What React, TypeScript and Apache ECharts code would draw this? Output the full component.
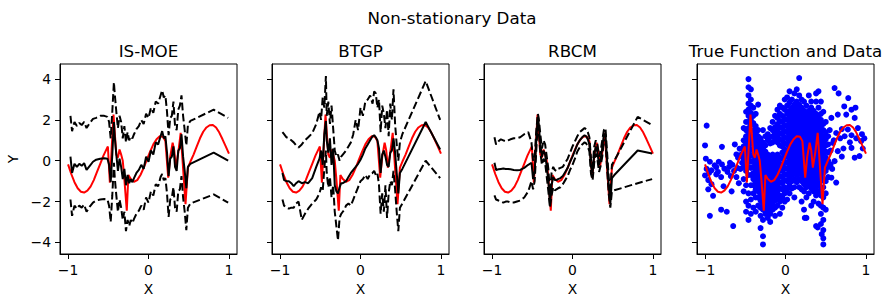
import React, { useEffect, useRef } from "react";
import * as echarts from "echarts";

// shared test inputs
const xTest = [
  -0.97, -0.95, -0.92, -0.89, -0.86, -0.83, -0.8, -0.77, -0.73, -0.69, -0.65, -0.6,
  -0.55, -0.51, -0.49, -0.47, -0.45, -0.43, -0.42, -0.4, -0.38, -0.36, -0.34, -0.32,
  -0.3, -0.28, -0.26, -0.24, -0.22, -0.2, -0.18, -0.15, -0.12, -0.09, -0.06, -0.03,
  0.0, 0.03, 0.06, 0.09, 0.12, 0.15, 0.17, 0.19, 0.21, 0.23, 0.25, 0.27,
  0.29, 0.31, 0.33, 0.35, 0.37, 0.39, 0.41, 0.43, 0.45, 0.47, 0.49, 0.52, 0.81, 0.99,
];

// IS-MOE
const meanIsMoe = [
  0.2, -0.6, -0.15, -0.3, -0.15, -0.25, -0.12, -0.45, -0.25, -0.05, 0.05, 0.1,
  0.12, 0.1, -0.2, -1.05, 0.3, 1.9, 1.2, 0.3, -0.5, 0.1, -0.3, -0.9,
  -0.4, -1.2, -0.7, -1.1, -0.9, -1.05, -0.85, -0.6, -0.45, -0.2, -0.4, 0.2,
  -0.05, 0.5, 0.3, 0.9, 0.8, 1.2, 1.45, 1.1, 1.2, 0.4, -0.75, 0.1,
  0.2, 0.7, -0.3, -0.5, 0.5, 0.6, 1.3, 0.2, -0.5, -1.35, -0.3, -0.15, 0.4, 0.0,
];
const upperIsMoe = [
  2.2, 1.45, 1.9, 1.7, 1.85, 1.75, 1.9, 1.6, 1.85, 2.05, 2.1, 2.2,
  2.2, 2.15, 1.9, 1.1, 2.4, 3.85, 3.3, 2.4, 1.6, 2.2, 1.9, 1.1,
  1.7, 0.9, 1.4, 1.0, 1.2, 1.1, 1.3, 1.55, 1.7, 2.0, 1.8, 2.3,
  2.1, 2.6, 2.35, 2.9, 2.8, 3.2, 3.45, 3.1, 3.2, 2.4, 1.25, 2.1,
  2.2, 2.9, 1.7, 1.5, 2.5, 2.7, 3.2, 2.2, 1.5, 0.75, 1.75, 1.95, 2.5, 2.1,
];
const lowerIsMoe = [
  -1.9, -2.7, -2.2, -2.35, -2.2, -2.3, -2.15, -2.5, -2.25, -2.05, -1.95, -1.9,
  -1.88, -1.9, -2.2, -3.0, -1.7, -0.1, -0.8, -1.7, -2.5, -1.9, -2.3, -2.9,
  -2.5, -3.45, -2.9, -3.2, -2.9, -3.05, -2.85, -2.6, -2.45, -2.2, -2.4, -1.8,
  -2.05, -1.5, -1.7, -1.15, -1.25, -0.8, -0.65, -0.95, -0.85, -1.6, -2.75, -1.9,
  -1.8, -1.3, -2.3, -2.5, -1.5, -1.4, -0.75, -1.8, -2.5, -3.4, -2.3, -2.1, -1.65, -2.05,
];

// BTGP
const meanBtgp = [
  -0.6, -0.95, -1.0, -1.0, -1.1, -1.25, -1.1, -1.0, -1.1, -1.05, -1.1, -0.85,
  -0.3, 0.1, 0.5, -0.2, 1.3, 1.95, 1.0, 0.4, 1.1, -0.2, 0.6, -1.2,
  -1.5, -1.6, -1.3, -1.1, -1.1, -1.05, -1.0, -0.8, -0.6, -0.45, -0.3, -0.15,
  0.05, 0.3, 0.6, 0.8, 1.0, 1.2, 1.25, 1.15, 1.0, 0.6, -0.6, 0.3,
  0.5, 0.2, -0.2, -0.3, 0.4, 0.5, 1.1, 0.4, -0.6, -1.6, -0.6, -0.4, 1.9, 0.55,
];
const upperBtgp = [
  1.4, 1.3, 1.15, 1.1, 1.0, 0.9, 0.75, 0.65, 0.8, 1.0, 1.15, 1.35,
  1.8, 2.4, 2.0, 3.1, 2.6, 4.15, 2.2, 2.9, 1.8, 2.7, 1.6, 0.5,
  0.2, 0.3, 0.0, 0.2, 0.3, 0.4, 0.5, 0.7, 0.9, 1.3, 2.0, 1.5,
  2.6, 2.2, 2.9, 3.0, 3.2, 2.8, 3.4, 3.3, 2.6, 3.0, 1.4, 2.7,
  2.3, 1.6, 2.5, 1.2, 2.8, 2.0, 3.5, 1.8, 0.8, 0.0, 0.9, 1.3, 3.9, 2.0,
];
const lowerBtgp = [
  -1.9, -2.2, -2.3, -2.35, -2.3, -2.3, -2.1, -2.0, -2.9, -2.6, -2.35, -2.1,
  -1.9, -1.6, -1.3, -1.5, -0.4, 0.5, -0.6, -1.3, -0.8, -1.8, -1.2, -2.5,
  -3.2, -3.9, -2.8, -2.6, -2.5, -2.4, -2.2, -2.1, -2.2, -1.9, -1.6, -1.3,
  -1.0, -0.9, -0.7, -0.9, -0.65, -0.6, -0.5, -0.7, -0.6, -1.2, -2.6, -1.6,
  -2.5, -1.2, -2.8, -1.6, -1.0, -1.2, -0.5, -1.4, -2.5, -3.45, -2.3, -2.1, 0.0, -0.85,
];

// RBCM
const meanRbcm = [
  -0.1, -0.45, -0.42, -0.4, -0.38, -0.4, -0.4, -0.42, -0.45, -0.47, -0.45, -0.35,
  -0.2, -0.1, -0.9, -0.5, 1.0, 2.15, 1.8, 0.8, 0.2, 0.5, 0.3, -0.3,
  -1.0, -2.1, -1.2, -0.8, -0.95, -0.95, -0.9, -0.85, -0.75, -0.55, -0.35, -0.05,
  0.2, 0.5, 0.8, 1.0, 1.15, 1.25, 1.2, 1.05, 0.8, -0.3, -0.6, 0.3,
  0.7, 0.4, -0.2, 0.1, 0.6, 1.3, 1.3, 0.0, -1.2, -2.1, -0.85, -0.7, 0.5, 0.35,
];
const upperRbcm = [
  1.15, 0.8, 0.95, 1.05, 1.0, 0.95, 1.0, 1.05, 1.1, 1.1, 1.15, 1.3,
  1.4, 0.9, 0.0, 0.2, 1.5, 2.3, 2.1, 1.3, 0.6, 1.0, 0.8, 0.2,
  -0.4, -1.6, -0.6, -0.3, -0.45, -0.5, -0.4, -0.35, -0.3, -0.1, 0.1, 0.4,
  0.7, 0.95, 1.2, 1.4, 1.5, 1.6, 1.55, 1.4, 1.15, 0.1, -0.3, 0.7,
  1.0, 0.8, 0.2, 0.5, 1.0, 1.5, 1.6, 0.4, -0.8, -1.6, -0.2, 0.0, 2.15, 1.75,
];
const lowerRbcm = [
  -1.7, -1.9, -1.95, -2.0, -2.05, -2.0, -2.0, -2.05, -2.05, -2.0, -1.95, -1.8,
  -1.5, -1.0, -1.4, -1.0, 0.5, 1.95, 1.5, 0.4, -0.2, 0.1, -0.1, -0.8,
  -1.5, -2.3, -1.7, -1.3, -1.45, -1.4, -1.35, -1.3, -1.15, -0.95, -0.75, -0.45,
  -0.2, 0.1, 0.45, 0.65, 0.8, 0.9, 0.85, 0.7, 0.45, -0.65, -0.95, -0.1,
  0.35, 0.05, -0.55, -0.25, 0.2, 1.0, 1.0, -0.4, -1.6, -2.3, -1.5, -1.45, -1.1, -0.9,
];

// true function
const trueX = [
  -1.0, -0.96, -0.92, -0.88, -0.84, -0.8, -0.76, -0.72, -0.68, -0.64, -0.6, -0.56, -0.52,
  -0.505, -0.48, -0.455, -0.435, -0.42, -0.4, -0.38, -0.36, -0.34, -0.32, -0.3, -0.27,
  -0.25, -0.22, -0.18, -0.14, -0.1, -0.06, -0.02, 0.02, 0.06, 0.1, 0.14, 0.18, 0.21,
  0.245, 0.27, 0.3, 0.32, 0.34, 0.37, 0.4, 0.46, 0.49, 0.52, 0.56, 0.6, 0.64, 0.68,
  0.72, 0.76, 0.8, 0.84, 0.88, 0.92, 0.96, 1.0,
];
const trueY = [
  -0.18, -0.65, -1.05, -1.35, -1.52, -1.56, -1.47, -1.27, -0.95, -0.55, -0.15, 0.25, 0.58,
  0.7, -1.07, 0.8, 2.26, 1.4, 0.3, 0.15, 0.55, 0.3, 0.0, -0.9, -2.45,
  -0.7, -0.9, -1.03, -0.95, -0.7, -0.35, 0.05, 0.45, 0.8, 1.05, 1.2, 1.18, 0.96,
  -0.83, 0.2, 0.88, 0.5, -0.34, 0.4, 1.37, -2.13, -0.34, -0.05, 0.3, 0.7, 1.1, 1.42,
  1.63, 1.74, 1.75, 1.63, 1.38, 1.05, 0.7, 0.35,
];

// observed data
const dataLeft: [number, number][] = [
  [-0.98, 1.72], [-1.0, 0.75], [-0.99, 0.1], [-0.98, -0.4], [-1.0, -0.72], [-0.95, -0.6],
  [-0.92, -0.47], [-0.94, -0.05], [-0.88, -0.22], [-0.86, -0.67], [-0.79, 0.68], [-0.79, -0.18],
  [-0.69, -0.1], [-0.92, -1.15], [-0.96, -1.4], [-0.9, -1.72], [-0.94, -2.7], [-0.8, -2.4],
  [-0.73, -2.5], [-0.65, -3.2], [-0.63, 0.8], [-0.61, 0.31], [-0.67, -1.5], [-0.52, 0.5],
  [-0.86, -0.31], [-0.8, -0.8], [-0.76, -0.39], [-0.72, -0.55], [-0.68, -0.75], [-0.66, -0.2],
  [-0.57, 0.59], [-0.59, 0.15], [-0.61, -0.8], [-0.84, -0.55], [-0.96, -0.95], [-0.77, -1.25],
  [-0.7, -0.3], [-0.55, 0.3], [-0.56, -0.4], [-0.58, -1.1], [-0.54, -0.1], [-0.83, -0.05],
  [-0.64, -0.5], [-0.6, -0.35],
];
const dataColumns: [number, number[]][] = [
  [-0.52, [1.6, 1.0, 0.7, 0.4, 0.1, -0.3, -0.9, -1.5]],
  [-0.49, [2.4, 1.9, 1.5, 1.2, 0.85, 0.5, 0.2, -0.1, -0.5, -1.2, -2.0, -2.5]],
  [-0.46, [4.0, 3.6, 3.2, 2.8, 2.5, 2.2, 1.9, 1.6, 1.3, 1.0, 0.7, 0.4, 0.1, -0.3, -0.7, -1.6, -2.2, -2.9]],
  [-0.43, [3.5, 3.0, 2.7, 2.35, 2.05, 1.75, 1.45, 1.15, 0.85, 0.55, 0.25, -0.05, -0.35, -0.7, -1.2, -1.9, -2.6]],
  [-0.4, [2.6, 2.2, 1.85, 1.5, 1.2, 0.9, 0.6, 0.3, 0.0, -0.3, -0.6, -0.9, -1.2, -1.6, -2.3]],
  [-0.37, [2.3, 1.7, 1.35, 1.05, 0.75, 0.45, 0.15, -0.15, -0.45, -0.75, -1.05, -1.4, -1.8, -2.5]],
  [-0.34, [2.75, 1.5, 1.2, 0.9, 0.6, 0.3, 0.0, -0.3, -0.6, -0.9, -1.2, -1.5, -1.8, -2.2]],
  [-0.31, [1.1, 0.75, 0.45, 0.15, -0.15, -0.45, -0.75, -1.05, -1.35, -1.65, -1.95, -2.3, -2.7, -3.3]],
  [-0.28, [1.5, 0.9, 0.6, 0.3, 0.0, -0.3, -0.6, -0.9, -1.2, -1.5, -1.8, -2.1, -2.4, -2.9, -3.7, -4.1]],
  [-0.25, [1.2, 0.75, 0.45, 0.15, -0.15, -0.45, -0.75, -1.05, -1.35, -1.65, -1.95, -2.25, -2.6]],
  [-0.22, [1.3, 1.0, 0.3, 0.0, -0.3, -0.6, -0.9, -1.2, -1.5, -1.8, -2.1, -2.4, -2.8]],
  [-0.19, [1.6, 1.15, 0.85, 0.15, -0.15, -0.45, -0.75, -1.05, -1.35, -1.65, -1.95, -2.3, -2.6, -3.0]],
  [-0.16, [1.9, 1.5, 1.2, 0.9, 0.3, 0.0, -0.3, -0.6, -0.9, -1.2, -1.5, -1.8, -2.1, -2.4]],
  [-0.13, [2.2, 1.65, 1.35, 1.05, 0.15, -0.15, -0.45, -0.75, -1.05, -1.35, -1.65, -1.95, -2.3, -2.7]],
  [-0.1, [2.5, 2.1, 1.8, 1.5, 1.2, 0.9, 0.3, 0.0, -0.3, -0.6, -0.9, -1.2, -1.5, -1.8, -2.2]],
  [-0.07, [2.7, 2.3, 1.95, 1.65, 1.35, 1.05, 0.75, 0.15, -0.15, -0.45, -0.75, -1.05, -1.35, -1.7, -2.0, -2.6]],
  [-0.04, [2.6, 2.2, 1.9, 1.6, 1.3, 1.0, 0.7, 0.4, 0.1, -0.2, -0.5, -0.8, -1.1, -1.4, -1.8, -2.3]],
  [-0.01, [3.0, 2.5, 2.05, 1.75, 1.45, 1.15, 0.85, 0.55, 0.25, -0.05, -0.35, -0.65, -0.95, -1.3, -1.6, -2.0]],
  [0.02, [3.1, 2.7, 2.3, 2.0, 1.7, 1.4, 1.1, 0.8, 0.5, 0.2, -0.1, -0.4, -0.7, -1.0, -1.4, -1.9]],
  [0.05, [3.4, 2.85, 2.45, 2.15, 1.85, 1.55, 1.25, 0.95, 0.65, 0.35, 0.05, -0.25, -0.55, -0.85, -1.2, -1.6]],
  [0.08, [3.0, 2.6, 2.3, 2.0, 1.7, 1.4, 1.1, 0.8, 0.5, 0.2, -0.1, -0.4, -0.7, -1.0, -1.35]],
  [0.11, [3.3, 2.75, 2.45, 2.15, 1.85, 1.55, 1.25, 0.95, 0.65, 0.35, 0.05, -0.25, -0.55, -0.9, -1.3, -1.8]],
  [0.14, [3.5, 2.9, 2.6, 2.3, 2.0, 1.7, 1.4, 1.1, 0.8, 0.5, 0.2, -0.1, -0.4, -0.7, -1.05]],
  [0.17, [4.05, 3.2, 2.75, 2.45, 2.15, 1.85, 1.55, 1.25, 0.95, 0.65, 0.35, 0.05, -0.25, -0.55, -0.9, -1.3]],
  [0.2, [3.0, 2.6, 2.3, 2.0, 1.7, 1.4, 1.1, 0.8, 0.5, 0.2, -0.1, -0.4, -0.7, -1.0, -1.4, -2.0]],
  [0.23, [2.9, 2.45, 2.15, 1.85, 1.55, 1.25, 0.95, 0.65, 0.35, 0.05, -0.25, -0.55, -0.85, -1.15, -1.5, -2.4]],
  [0.26, [2.7, 2.3, 2.0, 1.7, 1.4, 1.1, 0.8, 0.5, 0.2, -0.1, -0.4, -0.7, -1.0, -1.3, -1.8, -2.8]],
  [0.29, [3.2, 2.45, 2.15, 1.85, 1.55, 1.25, 0.95, 0.65, 0.35, 0.05, -0.25, -0.55, -0.85, -1.2, -1.6]],
  [0.32, [2.9, 2.6, 2.3, 2.0, 1.7, 1.4, 1.1, 0.8, 0.5, 0.2, -0.1, -0.4, -0.7, -1.0, -1.35, -2.2]],
  [0.35, [2.45, 2.15, 1.85, 1.55, 1.25, 0.95, 0.65, 0.35, 0.05, -0.25, -0.55, -0.85, -1.15, -1.5, -2.0]],
  [0.38, [3.3, 2.9, 2.3, 2.0, 1.7, 1.4, 1.1, 0.8, 0.5, 0.2, -0.1, -0.4, -0.7, -1.0, -1.3, -1.7, -3.2]],
  [0.41, [3.4, 2.6, 2.15, 1.85, 1.55, 1.25, 0.95, 0.65, 0.35, 0.05, -0.25, -0.55, -0.85, -1.15, -1.5, -2.1]],
  [0.44, [2.9, 2.3, 2.0, 1.7, 1.4, 1.1, 0.8, 0.5, 0.2, -0.1, -0.4, -0.7, -1.0, -1.3, -1.7, -2.2, -2.6, -3.1]],
  [0.47, [2.4, 1.8, 1.5, 1.2, 0.9, 0.6, 0.3, 0.0, -0.3, -0.6, -0.9, -1.3, -1.8, -2.3, -2.9, -3.4, -3.8]],
  [0.5, [1.9, 1.4, 1.05, 0.75, 0.45, 0.15, -0.15, -0.5, -1.0, -1.6, -2.4]],
  [0.53, [1.2, 0.8, 0.4, 0.0, -0.3, -0.8]],
];
const dataRight: [number, number][] = [
  [0.61, 3.56], [0.66, 3.3], [0.78, 3.07], [0.73, 2.66], [0.82, 2.5], [0.86, 2.1], [0.65, 2.26],
  [0.57, 2.1], [0.755, 2.26], [0.63, 1.36], [0.68, 1.1], [0.735, 1.2], [0.82, 1.25], [0.88, 1.1],
  [0.94, 0.96], [0.98, 1.1], [0.96, 0.6], [0.86, 0.15], [0.92, 0.23], [0.65, 0.47], [0.7, 0.2],
  [0.61, -0.02], [0.56, -0.18], [0.57, -0.83], [0.63, -1.07], [0.59, 0.87], [0.82, 0.63],
  [0.775, 1.53], [0.7, 1.55], [0.55, 1.5], [0.6, 1.0], [0.9, 1.6], [0.95, 1.3], [0.72, 0.6],
  [0.8, 0.9], [0.56, 0.5], [0.58, -0.4], [0.87, 2.6], [0.4, -3.27], [0.47, -4.1], [0.24, -2.8],
  [0.45, -3.6],
];

const panelTitles = ["IS-MOE", "BTGP", "RBCM", "True Function and Data"];
const figureTitle = "Non-stationary Data";
const xTicks = [-1, 0, 1];
const yTicks = [-4, -2, 0, 2, 4];

const zip = (xs: number[], ys: number[]) => xs.map((x, i) => [x, ys[i]]);

export default function App() {
  const ref = useRef<HTMLDivElement>(null);
  useEffect(() => {
    document.body.style.margin = "0";
    const chart = echarts.init(ref.current!, null, { renderer: "svg" });
    const font = "DejaVu Sans";
    const lefts = [60, 272, 484, 697];
    const W = 177;
    const TOP = 64;
    const H = 190;
    const fmt = (v: number) => (v < 0 ? "\u2212" + Math.abs(v) : String(v));

    const grids = lefts.map((l) => ({
      left: l, top: TOP, width: W, height: H, show: true,
      borderColor: "#000", borderWidth: 1, backgroundColor: "transparent",
    }));
    const xAxes = lefts.map((_, i) => ({
      type: "value", gridIndex: i, min: -1.1, max: 1.1,
      splitLine: { show: false },
      axisLine: { show: true, onZero: false, lineStyle: { color: "#000", width: 1 } },
      axisTick: { show: true, inside: false, length: 5, lineStyle: { color: "#000", width: 1 }, customValues: xTicks },
      axisLabel: { customValues: xTicks, formatter: fmt, color: "#000", fontSize: 13.9, fontFamily: font, margin: 9 },
    }));
    const yAxes = lefts.map((_, i) => ({
      type: "value", gridIndex: i, min: -4.57, max: 4.74,
      splitLine: { show: false },
      axisLine: { show: true, onZero: false, lineStyle: { color: "#000", width: 1 } },
      axisTick: { show: true, inside: false, length: 5, lineStyle: { color: "#000", width: 1 }, customValues: yTicks },
      axisLabel: { show: i === 0, customValues: yTicks, formatter: fmt, color: "#000", fontSize: 13.9, fontFamily: font, margin: 9 },
    }));

    const line = (i: number, data: number[][], color: string, dashed: boolean) => ({
      type: "line", xAxisIndex: i, yAxisIndex: i, data, symbol: "none", showSymbol: false,
      clip: true, silent: true,
      lineStyle: { color, width: 2, type: dashed ? [7.7, 3.3] : "solid" },
    });

    const models = [
      [meanIsMoe, upperIsMoe, lowerIsMoe],
      [meanBtgp, upperBtgp, lowerBtgp],
      [meanRbcm, upperRbcm, lowerRbcm],
    ];
    const series: any[] = [];
    models.forEach((m, i) => {
      series.push(line(i, zip(trueX, trueY), "#ff0000", false));
      series.push(line(i, zip(xTest, m[0]), "#000000", false));
      series.push(line(i, zip(xTest, m[1]), "#000000", true));
      series.push(line(i, zip(xTest, m[2]), "#000000", true));
    });
    const scatterData: number[][] = [
      ...dataLeft,
      ...dataColumns.flatMap(([x, ys]) => ys.map((y) => [x, y])),
      ...dataRight,
    ];
    series.push({
      type: "scatter", xAxisIndex: 3, yAxisIndex: 3, data: scatterData,
      symbol: "circle", symbolSize: 6, silent: true,
      itemStyle: { color: "#0000ff", opacity: 1 },
    });
    series.push(line(3, zip(trueX, trueY), "#ff0000", false));

    const txt = (text: string, x: number, y: number, size: number, rot = 0) => ({
      type: "text", x, y, rotation: rot, silent: true,
      style: { text, fill: "#000", fontSize: size, fontFamily: font, align: "center", verticalAlign: "middle" },
    });
    const graphics: any[] = [txt(figureTitle, 452, 18, 16.7)];
    lefts.forEach((l, i) => {
      graphics.push(txt(panelTitles[i], l + W / 2, 51, 16.7));
      graphics.push(txt("X", l + W / 2, 289, 13.9));
    });
    graphics.push(txt("Y", 13, 159, 13.9, Math.PI / 2));

    chart.setOption({
      animation: false,
      backgroundColor: "#fff",
      grid: grids,
      xAxis: xAxes,
      yAxis: yAxes,
      series,
      graphic: graphics,
    });
    return () => chart.dispose();
  }, []);
  return <div ref={ref} style={{ width: 892, height: 307 }} />;
}
